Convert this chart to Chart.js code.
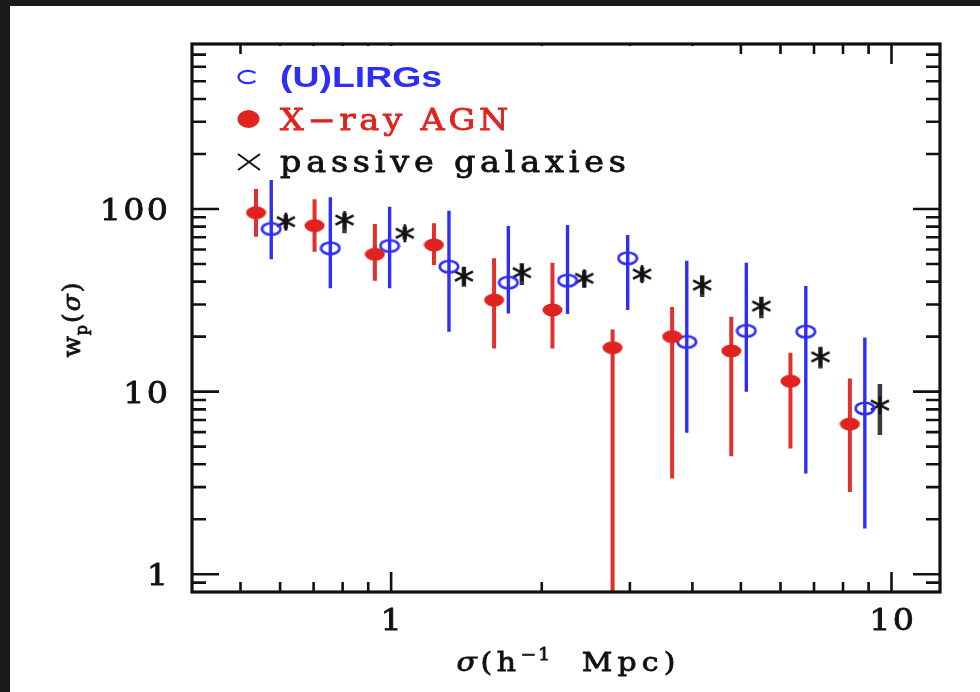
<!DOCTYPE html>
<html>
<head>
<meta charset="utf-8">
<script src="https://cdn.jsdelivr.net/npm/chart.js@4/dist/chart.umd.min.js"></script>
<style>
html,body{margin:0;padding:0;background:#1a1a1a;overflow:hidden;}
#c{display:block;position:absolute;left:0;top:0;}
</style>
</head>
<body>
<canvas id="c" width="980" height="692"></canvas>
<script>
// ---------- data ----------
const ulirgSigma = [0.576, 0.756, 0.993, 1.305, 1.715, 2.252, 2.970, 3.898, 5.127, 6.741, 8.845];
const ulirgWp    = [77.7, 60.9, 62.7, 48.3, 39.5, 40.5, 53.7, 18.7, 21.5, 21.3, 8.09];
const ulirgLo    = [53.0, 36.8, 36.8, 21.3, 26.8, 26.6, 28.0, 5.95, 9.97, 3.56, 1.78];
const ulirgHi    = [144.2, 115.9, 102.9, 97.9, 80.7, 81.7, 72.0, 52.1, 50.8, 37.9, 19.8];

const agnSigma = [0.537, 0.703, 0.928, 1.218, 1.606, 2.101, 2.771, 3.644, 4.784, 6.281, 8.257];
const agnWp    = [95.4, 81.0, 56.5, 63.5, 31.7, 28.0, 17.4, 20.0, 16.7, 11.4, 6.64];
const agnLo    = [70.5, 58.3, 40.5, 49.3, 17.2, 17.2, 0.1, 3.35, 4.43, 4.88, 2.82];
const agnHi    = [128.7, 113.0, 82.8, 83.5, 53.7, 50.8, 21.9, 29.1, 25.7, 16.3, 11.8];

const passiveSigma = [0.616, 0.807, 1.065, 1.398, 1.825, 2.432, 3.173, 4.184, 5.494, 7.211, 9.480];
const passiveWp    = [85.2, 87.0, 73.6, 42.9, 44.8, 41.7, 44.0, 38.3, 29.4, 15.5, 8.43];
const passiveLo    = [78.0, 73.6, 68.0, 37.5, 38.3, 37.0, 40.0, 33.0, 25.2, 13.4, 5.78];
const passiveHi    = [93.0, 95.0, 80.0, 48.3, 50.4, 46.0, 48.0, 43.4, 33.1, 17.6, 11.0];

const seriesLabels = ['(U)LIRGs', 'X\u2212ray AGN', 'passive galaxies'];

const xTickValues = [1, 10];
const xTickLabels = ['1', '10'];
const xMinorTicks = [0.5, 0.6, 0.7, 0.8, 0.9, 2, 3, 4, 5, 6, 7, 8, 9];
const yTickValues = [1, 10, 100];
const yTickLabels = ['1', '10', '100'];
const yMinorTicks = [0.9, 2, 3, 4, 5, 6, 7, 8, 9, 20, 30, 40, 50, 60, 70, 80, 90, 200, 300, 400, 500, 600, 700];

// ---------- styles ----------
const BLUE = '#2e2ef6';
const RED = '#e0231f';
const BLACK = '#111111';
const SERIF = '"DejaVu Serif", serif';

function ellipseImg(w, h, fill, stroke, lw) {
  const c = document.createElement('canvas');
  c.width = w; c.height = h;
  const g = c.getContext('2d');
  g.beginPath();
  g.ellipse(w / 2, h / 2, w / 2 - (lw || 0) / 2 - 0.5, h / 2 - (lw || 0) / 2 - 0.5, 0, 0, Math.PI * 2);
  if (fill) { g.fillStyle = fill; g.fill(); }
  if (stroke) { g.lineWidth = lw; g.strokeStyle = stroke; g.stroke(); }
  return c;
}
function asteriskImg(w, h) {
  const c = document.createElement('canvas');
  c.width = w; c.height = h;
  const g = c.getContext('2d');
  g.strokeStyle = BLACK; g.lineWidth = 2.7; g.lineCap = 'butt';
  g.beginPath();
  g.moveTo(w / 2, 1); g.lineTo(w / 2, h - 1);
  g.moveTo(2, h * 0.27); g.lineTo(w - 2, h * 0.73);
  g.moveTo(2, h * 0.73); g.lineTo(w - 2, h * 0.27);
  g.stroke();
  return c;
}
const blueImg = ellipseImg(22, 15, null, BLUE, 2.6);
const redImg = ellipseImg(21, 14, RED, null, 0);
const starImg = asteriskImg(22, 20);

function toPoints(xs, ys) { return xs.map((x, i) => ({ x: x, y: ys[i] })); }

// ---------- helpers for text ----------
// draw text char by char with extra spacing sp; optional faux-bold stroke
function drawSpaced(ctx, text, x, y, sp, align, bold) {
  const chars = [...text];
  const widths = chars.map(c => ctx.measureText(c).width);
  const total = widths.reduce((a, b) => a + b, 0) + sp * (chars.length - 1);
  let cx = align === 'right' ? x - total : (align === 'center' ? x - total / 2 : x);
  ctx.textAlign = 'left';
  chars.forEach((c, i) => {
    ctx.fillText(c, cx, y);
    if (bold) { ctx.lineWidth = bold; ctx.strokeStyle = ctx.fillStyle; ctx.strokeText(c, cx, y); }
    cx += widths[i] + sp;
  });
  return total;
}
function drawWide(ctx, text, x, y, sx, sp, align, bold) {
  ctx.save();
  ctx.translate(x, y);
  ctx.scale(sx, 1);
  drawSpaced(ctx, text, 0, 0, sp, align, bold);
  ctx.restore();
}
function drawRich(ctx, segs, x, y, sx, align, bold) {
  ctx.save();
  ctx.translate(x, y);
  ctx.scale(sx, 1);
  let total = 0;
  segs.forEach(s => {
    ctx.font = s.font;
    s.chars = [...s.text];
    s.w = s.chars.map(c => ctx.measureText(c).width);
    s.tw = s.w.reduce((a, b) => a + b, 0) + s.sp * s.chars.length;
    total += s.tw;
  });
  total -= segs[segs.length - 1].sp;
  let cx = align === 'center' ? -total / 2 : 0;
  ctx.textAlign = 'left';
  segs.forEach(s => {
    ctx.font = s.font;
    s.chars.forEach((c, i) => {
      ctx.fillText(c, cx, s.dy || 0);
      if (bold) { ctx.lineWidth = bold; ctx.strokeStyle = ctx.fillStyle; ctx.strokeText(c, cx, s.dy || 0); }
      cx += s.w[i] + s.sp;
    });
  });
  ctx.restore();
}
function drawStretched(ctx, text, x, y, targetW) {
  const w = ctx.measureText(text).width;
  ctx.save();
  ctx.translate(x, y);
  ctx.scale(targetW / w, 1);
  ctx.textAlign = 'left';
  ctx.fillText(text, 0, 0);
  ctx.restore();
}

// ---------- plugins ----------
const backgroundPlugin = {
  id: 'bg',
  beforeDraw(chart) {
    const ctx = chart.ctx;
    ctx.save();
    ctx.fillStyle = '#1a1a1a';
    ctx.fillRect(0, 0, chart.width, chart.height);
    ctx.fillStyle = '#ffffff';
    ctx.fillRect(10, 6, chart.width - 10, chart.height - 6);
    ctx.restore();
  }
};

const errorBarPlugin = {
  id: 'errbars',
  beforeDatasetsDraw(chart) {
    const ctx = chart.ctx, xs = chart.scales.x, ys = chart.scales.y, a = chart.chartArea;
    const sets = [
      { sig: agnSigma, lo: agnLo, hi: agnHi, color: '#e2302c', lw: 4 },
      { sig: ulirgSigma, lo: ulirgLo, hi: ulirgHi, color: BLUE, lw: 3.4 },
      { sig: passiveSigma, lo: passiveLo, hi: passiveHi, color: '#3a3a3a', lw: 4.5 }
    ];
    ctx.save();
    ctx.beginPath();
    ctx.rect(a.left, a.top, a.right - a.left, a.bottom - a.top);
    ctx.clip();
    sets.forEach(s => {
      ctx.strokeStyle = s.color;
      ctx.lineWidth = s.lw;
      ctx.beginPath();
      s.sig.forEach((v, i) => {
        const px = xs.getPixelForValue(v);
        ctx.moveTo(px, ys.getPixelForValue(s.hi[i]));
        ctx.lineTo(px, Math.min(ys.getPixelForValue(s.lo[i]), a.bottom + 5));
      });
      ctx.stroke();
    });
    ctx.restore();
  }
};

const framePlugin = {
  id: 'frame',
  afterDraw(chart) {
    const ctx = chart.ctx, xs = chart.scales.x, ys = chart.scales.y, a = chart.chartArea;
    ctx.save();
    ctx.strokeStyle = BLACK;
    ctx.lineWidth = 2.6;
    ctx.beginPath();
    const xTick = (v, len) => {
      const p = xs.getPixelForValue(v);
      ctx.moveTo(p, a.bottom); ctx.lineTo(p, a.bottom - len);
      ctx.moveTo(p, a.top); ctx.lineTo(p, a.top + len);
    };
    const yTick = (v, len) => {
      const p = ys.getPixelForValue(v);
      ctx.moveTo(a.left, p); ctx.lineTo(a.left + len, p);
      ctx.moveTo(a.right, p); ctx.lineTo(a.right - len, p);
    };
    xTickValues.forEach(v => xTick(v, 20));
    xMinorTicks.forEach(v => xTick(v, 10));
    yTickValues.forEach(v => yTick(v, 27));
    yMinorTicks.forEach(v => yTick(v, 14));
    ctx.stroke();

    // legend area (blanks the top ticks behind it)
    ctx.fillStyle = '#ffffff';
    ctx.fillRect(250, a.top + 2, 478, 24);

    // frame
    ctx.strokeStyle = BLACK;
    ctx.lineWidth = 3.2;
    ctx.strokeRect(a.left, a.top, a.right - a.left, a.bottom - a.top);

    // tick labels
    ctx.fillStyle = BLACK;
    ctx.font = '29px ' + SERIF;
    ctx.textBaseline = 'alphabetic';
    yTickValues.forEach((v, i) => {
      drawWide(ctx, yTickLabels[i], 168, ys.getPixelForValue(v) + 11, 1.15, 2, 'right', 0.8);
    });
    xTickValues.forEach((v, i) => {
      drawWide(ctx, xTickLabels[i], xs.getPixelForValue(v), a.bottom + 38, 1.15, 2, 'center', 0.8);
    });

    // x-axis title
    drawRich(ctx, [
      { text: '\u03c3', font: 'italic 26px ' + SERIF, sp: 3 },
      { text: '(h', font: '26px ' + SERIF, sp: 4 },
      { text: '\u22121', font: '16px ' + SERIF, sp: 2, dy: -11 },
      { text: '  Mpc)', font: '26px ' + SERIF, sp: 4.5 }
    ], 566, 671, 1.15, 'center', 0.8);

    // y-axis title (rotated)
    ctx.save();
    ctx.translate(80, 320);
    ctx.rotate(-Math.PI / 2);
    drawRich(ctx, [
      { text: 'w', font: '25px ' + SERIF, sp: 1 },
      { text: 'p', font: '16px ' + SERIF, sp: 2, dy: 7 },
      { text: '(', font: '25px ' + SERIF, sp: 2 },
      { text: '\u03c3', font: 'italic 25px ' + SERIF, sp: 2 },
      { text: ')', font: '25px ' + SERIF, sp: 0 }
    ], 0, 0, 1.0, 'center', 0.8);
    ctx.restore();

    // legend symbols
    ctx.lineWidth = 2.2;
    ctx.strokeStyle = BLUE;
    ctx.beginPath();
    ctx.ellipse(248, 77, 9.5, 6.2, 0, 0.22 * Math.PI, 1.78 * Math.PI);
    ctx.stroke();
    ctx.fillStyle = RED;
    ctx.beginPath();
    ctx.ellipse(248.5, 119, 11, 9, 0, 0, Math.PI * 2);
    ctx.fill();
    ctx.strokeStyle = BLACK;
    ctx.lineWidth = 2;
    ctx.beginPath();
    ctx.moveTo(238, 154); ctx.lineTo(260, 170);
    ctx.moveTo(238, 170); ctx.lineTo(260, 154);
    ctx.stroke();

    // legend texts
    ctx.fillStyle = BLUE;
    ctx.font = 'bold 29px "Liberation Sans", Arial, sans-serif';
    drawStretched(ctx, seriesLabels[0], 280, 87, 162);
    ctx.fillStyle = RED;
    ctx.font = '29px ' + SERIF;
    drawWide(ctx, seriesLabels[1], 280, 130, 1.15, 3.4, 'left', 0.8);
    ctx.fillStyle = BLACK;
    drawWide(ctx, seriesLabels[2], 280, 172, 1.15, 4.2, 'left', 0.8);
    ctx.restore();
  }
};

new Chart(document.getElementById('c').getContext('2d'), {
  type: 'scatter',
  data: {
    datasets: [
      { label: seriesLabels[1], data: toPoints(agnSigma, agnWp), pointStyle: redImg, pointRadius: 10, showLine: false },
      { label: seriesLabels[0], data: toPoints(ulirgSigma, ulirgWp), pointStyle: blueImg, pointRadius: 10, showLine: false },
      { label: seriesLabels[2], data: toPoints(passiveSigma, passiveWp), pointStyle: starImg, pointRadius: 10, showLine: false }
    ]
  },
  options: {
    responsive: false,
    animation: false,
    devicePixelRatio: 1,
    layout: { padding: { left: 192, top: 44, right: 40, bottom: 100 } },
    scales: {
      x: { type: 'logarithmic', min: 0.4, max: 12.5, display: false },
      y: { type: 'logarithmic', min: 0.8, max: 800, display: false }
    },
    plugins: { legend: { display: false }, tooltip: { enabled: false } }
  },
  plugins: [backgroundPlugin, errorBarPlugin, framePlugin]
});
</script>
</body>
</html>
